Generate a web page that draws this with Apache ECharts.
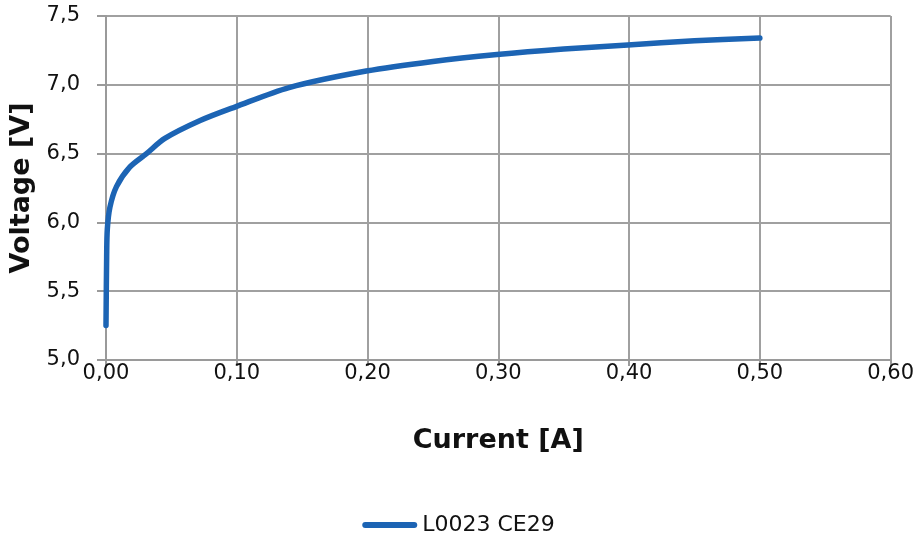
<!DOCTYPE html>
<html><head><meta charset="utf-8">
<script src="https://cdn.jsdelivr.net/npm/echarts@6/dist/echarts.min.js"></script>
<style>html,body{margin:0;padding:0;background:#fff}#c{width:917px;height:542px}</style>
</head><body><div id="c"></div>
<script>
const currentA = [0, 0.0005, 0.001, 0.003, 0.008, 0.018, 0.031, 0.045, 0.072, 0.099, 0.140, 0.199, 0.250, 0.299, 0.350, 0.399, 0.450, 0.500];
const voltageV = [5.25, 5.75, 5.95, 6.11, 6.26, 6.40, 6.50, 6.61, 6.74, 6.84, 6.98, 7.10, 7.17, 7.22, 7.26, 7.29, 7.32, 7.34];
const seriesName = 'L0023 CE29';
const xTitle = 'Current [A]';
const yTitle = 'Voltage [V]';

const font = '"DejaVu Sans", sans-serif';
const chart = echarts.init(document.getElementById('c'), null, {renderer: 'canvas'});
chart.setOption({
  animation: false,
  grid: {left: 106, right: 25, top: 16, bottom: 182, containLabel: false},
  xAxis: {
    type: 'value', min: 0, max: 0.6, interval: 0.1,
    name: xTitle, nameLocation: 'middle', nameGap: 67,
    nameTextStyle: {fontFamily: font, fontSize: 27, fontWeight: 'bold', color: '#111'},
    axisLine: {show: true, lineStyle: {color: '#9a9a9a', width: 2}},
    axisTick: {show: true, length: 6, lineStyle: {color: '#9a9a9a', width: 2}},
    axisLabel: {fontFamily: font, fontSize: 21, color: '#111', margin: 3,
      formatter: v => v.toFixed(2).replace('.', ',')},
    splitLine: {show: true, lineStyle: {color: '#a0a0a0', width: 2}}
  },
  yAxis: {
    type: 'value', min: 5, max: 7.5, interval: 0.5,
    name: yTitle, nameLocation: 'middle', nameGap: 66,
    nameTextStyle: {fontFamily: font, fontSize: 27, fontWeight: 'bold', color: '#111'},
    axisLine: {show: true, lineStyle: {color: '#9a9a9a', width: 2}},
    axisTick: {show: true, length: 9, lineStyle: {color: '#9a9a9a', width: 2}},
    axisLabel: {fontFamily: font, fontSize: 21, color: '#111', margin: 26,
      formatter: v => v.toFixed(1).replace('.', ',')},
    splitLine: {show: true, lineStyle: {color: '#a0a0a0', width: 2}}
  },
  legend: {
    top: 509, left: 'center',
    itemWidth: 55, itemHeight: 6,
    textStyle: {fontFamily: font, fontSize: 22, color: '#111'},
    data: [{name: seriesName, icon: 'path://M3,0 L52,0 A3,3 0 0 1 52,6 L3,6 A3,3 0 0 1 3,0 Z'}]
  },
  series: [{
    name: seriesName, type: 'line',
    data: currentA.map((x, i) => [x, voltageV[i]]),
    showSymbol: false, symbol: 'none', smooth: 0.3,
    lineStyle: {color: '#1c64b4', width: 5.5, cap: 'round', join: 'round'},
    itemStyle: {color: '#1c64b4'}
  }]
});
</script></body></html>
